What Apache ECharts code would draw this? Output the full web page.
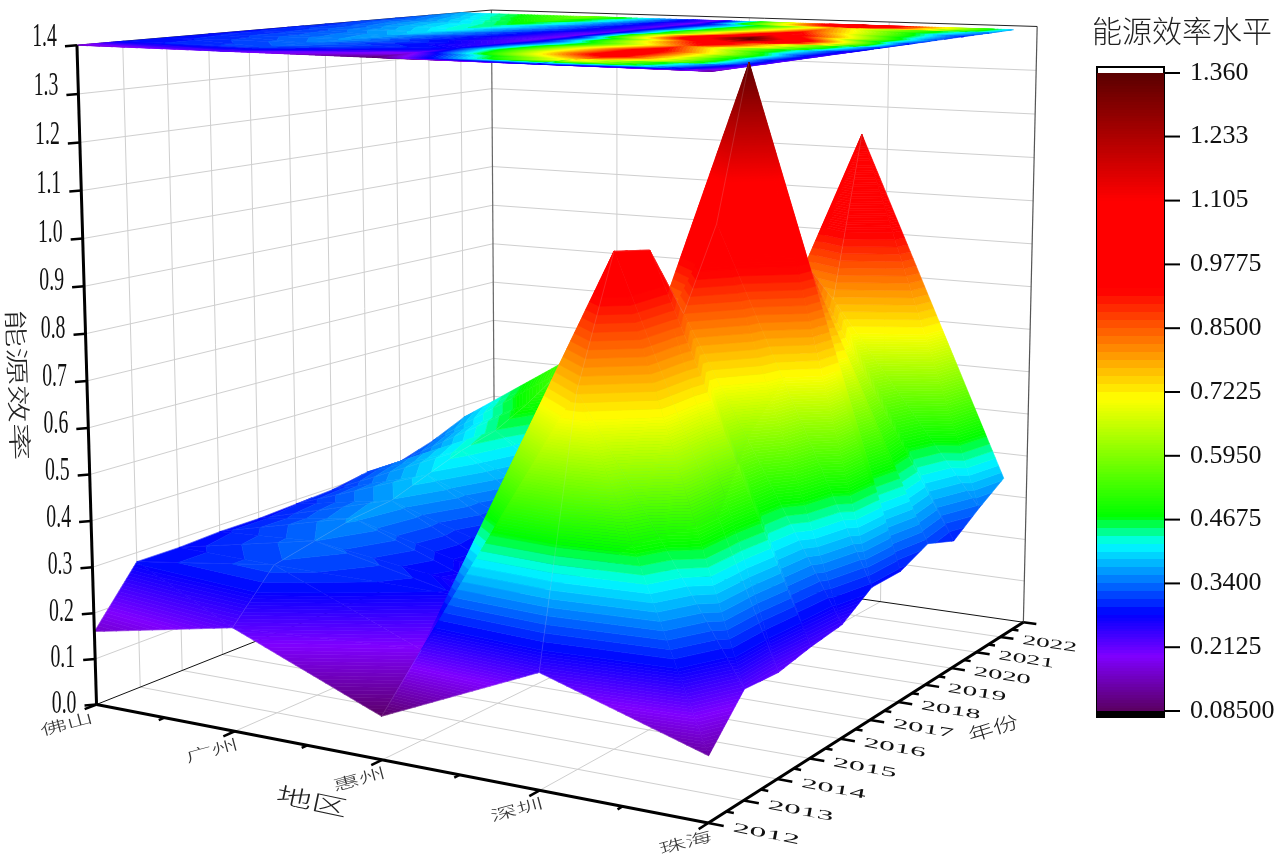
<!DOCTYPE html>
<html>
<head>
<meta charset="utf-8">
<title>能源效率</title>
<script src="https://cdn.jsdelivr.net/npm/echarts@6/dist/echarts.min.js"></script>
<style>
html, body { margin: 0; padding: 0; background: #fff; }
#main { width: 1281px; height: 862px; }
</style>
</head>
<body>
<div id="main"></div>
<script>
// values, one array per region, 2012 -> 2022
const regions = ['佛山', '广州', '惠州', '深圳', '珠海'];
const years = [2012, 2013, 2014, 2015, 2016, 2017, 2018, 2019, 2020, 2021, 2022];
const foshan = [0.16, 0.28, 0.28, 0.285, 0.285, 0.29, 0.295, 0.31, 0.31, 0.335, 0.37];
const guangzhou = [0.22, 0.32, 0.34, 0.36, 0.37, 0.40, 0.43, 0.45, 0.49, 0.54, 0.58];
const huizhou = [0.09, 0.19, 0.27, 0.24, 0.21, 0.20, 0.20, 0.22, 0.21, 0.20, 0.20];
const shenzhen = [0.235, 0.76, 1.015, 1.0, 0.85, 1.02, 1.35, 1.05, 0.88, 0.78, 1.148];
const zhuhai = [0.13, 0.22, 0.215, 0.23, 0.24, 0.285, 0.286, 0.315, 0.29, 0.335, 0.375];
const surface = [foshan, guangzhou, huizhou, shenzhen, zhuhai];

const zTicks = [0, 0.1, 0.2, 0.3, 0.4, 0.5, 0.6, 0.7, 0.8, 0.9, 1.0, 1.1, 1.2, 1.3, 1.4];
const colorTicks = [0.085, 0.2125, 0.34, 0.4675, 0.595, 0.7225, 0.85, 0.9775, 1.105, 1.233, 1.36];
const colorTickLabels = ['0.08500', '0.2125', '0.3400', '0.4675', '0.5950', '0.7225', '0.8500', '0.9775', '1.105', '1.233', '1.360'];
const colorStopValues = [0.085, 0.195, 0.278, 0.42, 0.475, 0.71, 0.925, 1.105, 1.36];
const colorStopHex = ['#5a0060', '#7f00ff', '#0000ff', '#00ffff', '#00ff00', '#ffff00', '#ff0000', '#ff0000', '#5a0000'];

const zMax = 1.4;
const yearSpan = 11; // the axis runs one step past 2022
const bandCount = 80;
const bandLo = 0.085, bandHi = 1.36;
const serif = '"Liberation Serif"';
const cjk = '"Noto Sans CJK SC"';

// camera: fit a perspective matrix to the eight corners of the box
// [r, t, h, screen x, screen y]
const boxCorners = [
  [0, 0, 0, 97, 705], [1, 0, 0, 707, 823], [1, 1, 0, 1024, 622], [0, 1, 0, 495, 546],
  [0, 0, 1, 77, 45], [1, 0, 1, 713, 71], [1, 1, 1, 1037, 27], [0, 1, 1, 491, 10]
];

function solve(A, b) {
  const n = b.length;
  for (let c = 0; c < n; c++) {
    let best = c;
    for (let q = c + 1; q < n; q++) if (Math.abs(A[q][c]) > Math.abs(A[best][c])) best = q;
    [A[c], A[best]] = [A[best], A[c]];
    [b[c], b[best]] = [b[best], b[c]];
    for (let q = c + 1; q < n; q++) {
      const f = A[q][c] / A[c][c];
      for (let k = c; k < n; k++) A[q][k] -= f * A[c][k];
      b[q] -= f * b[c];
    }
  }
  const x = new Array(n).fill(0);
  for (let c = n - 1; c >= 0; c--) {
    let s = b[c];
    for (let k = c + 1; k < n; k++) s -= A[c][k] * x[k];
    x[c] = s / A[c][c];
  }
  return x;
}

function fitCamera() {
  const rows = [], rhs = [];
  boxCorners.forEach(([r, t, h, u, v]) => {
    rows.push([r, t, h, 1, 0, 0, 0, 0, -u * r, -u * t, -u * h]); rhs.push(u);
    rows.push([0, 0, 0, 0, r, t, h, 1, -v * r, -v * t, -v * h]); rhs.push(v);
  });
  const N = [], y = [];
  for (let a = 0; a < 11; a++) {
    N.push([]);
    y.push(rows.reduce((s, row, q) => s + row[a] * rhs[q], 0));
    for (let b = 0; b < 11; b++) N[a].push(rows.reduce((s, row) => s + row[a] * row[b], 0));
  }
  return solve(N, y);
}
const cam = fitCamera();

function project(r, t, h) {
  const w = cam[8] * r + cam[9] * t + cam[10] * h + 1;
  return [(cam[0] * r + cam[1] * t + cam[2] * h + cam[3]) / w, (cam[4] * r + cam[5] * t + cam[6] * h + cam[7]) / w];
}

function valueColor(v) {
  let k = 0;
  while (k < colorStopValues.length - 2 && v > colorStopValues[k + 1]) k++;
  const f = Math.min(1, Math.max(0, (v - colorStopValues[k]) / (colorStopValues[k + 1] - colorStopValues[k])));
  const a = echarts.color.parse(colorStopHex[k]), b = echarts.color.parse(colorStopHex[k + 1]);
  return 'rgb(' + [0, 1, 2].map(c => Math.round(a[c] + (b[c] - a[c]) * f)).join(',') + ')';
}

// stepped look only from blue to green and from yellow to red, the rest is close to smooth
const bandStep = (bandHi - bandLo) / bandCount;
const bands = [];
for (let n = 0; n < bandCount; n++) {
  const lo = bandLo + n * bandStep, mid = lo + bandStep / 2;
  const stepped = (mid > 0.278 && mid < 0.475) || (mid > 0.71 && mid < 0.925);
  const parts = stepped ? 1 : 3;
  for (let s = 0; s < parts; s++) {
    const a = lo + bandStep * s / parts, b = lo + bandStep * (s + 1) / parts;
    bands.push({ lo: a, hi: b, color: valueColor((a + b) / 2) });
  }
}

function clipBy(poly, fn) {
  const out = [];
  poly.forEach((p, q) => {
    const n = poly[(q + 1) % poly.length], a = fn(p), b = fn(n);
    if (a >= 0) out.push(p);
    if ((a >= 0) !== (b >= 0)) {
      const f = a / (a - b);
      out.push([p[0] + (n[0] - p[0]) * f, p[1] + (n[1] - p[1]) * f, p[2] + (n[2] - p[2]) * f]);
    }
  });
  return out;
}

function triangleBands(tri, toScreen, out) {
  bands.forEach(b => {
    let poly = clipBy(tri, p => p[2] - b.lo);
    if (poly.length) poly = clipBy(poly, p => b.hi - p[2]);
    if (poly.length > 2) out.push({ kind: 'poly', points: poly.map(toScreen), color: b.color });
  });
}

const vertex = (i, j) => [i / (regions.length - 1), j / yearSpan, surface[i][j]];
const onSurface = p => project(p[0], p[1], p[2] / zMax);
const onCeiling = p => project(p[0], p[1], 1);

// back to front: far regions first, later years first
const surfacePieces = [], ceilingPieces = [];
for (let i = 0; i < regions.length - 1; i++) {
  for (let j = years.length - 2; j >= 0; j--) {
    const a = vertex(i, j), b = vertex(i + 1, j), c = vertex(i + 1, j + 1), d = vertex(i, j + 1);
    // the two outer strips are split along the other diagonal
    const tris = (i === 0 || i === regions.length - 2) ? [[b, c, d], [a, b, d]] : [[a, c, d], [a, b, c]];
    tris.forEach(tri => {
      triangleBands(tri, onSurface, surfacePieces);
      triangleBands(tri, onCeiling, ceilingPieces);
    });
    surfacePieces.push({ kind: 'line', a: onSurface(a), b: onSurface(b), color: 'rgba(215,215,215,0.22)', width: 0.8 });
    surfacePieces.push({ kind: 'line', a: onSurface(a), b: onSurface(d), color: 'rgba(215,215,215,0.22)', width: 0.8 });
  }
}

// walls and floor
const gridPieces = [];
const line3 = (list, p, q, color, width) => list.push({ kind: 'line', a: project(p[0], p[1], p[2]), b: project(q[0], q[1], q[2]), color: color, width: width });
const gridColor = '#cfcfcf';
zTicks.forEach(z => {
  const h = z / zMax;
  if (z > 0 && z < zMax) {
    line3(gridPieces, [0, 0, h], [0, 1, h], gridColor, 1);
    line3(gridPieces, [0, 1, h], [1, 1, h], gridColor, 1);
  }
});
for (let k = 1; k < yearSpan; k++) {
  line3(gridPieces, [0, k / yearSpan, 0], [0, k / yearSpan, 1], gridColor, 1);
  line3(gridPieces, [0, k / yearSpan, 0], [1, k / yearSpan, 0], gridColor, 1);
}
[0.25, 0.5, 0.75].forEach(r => {
  line3(gridPieces, [r, 1, 0], [r, 1, 1], gridColor, 1);
  line3(gridPieces, [r, 0, 0], [r, 1, 0], gridColor, 1);
});
line3(gridPieces, [0, 0, 0], [0, 1, 0], '#111', 1);
line3(gridPieces, [0, 1, 0], [1, 1, 0], '#111', 1);
line3(gridPieces, [0, 1, 0], [0, 1, 1], '#666', 1.2);
line3(gridPieces, [1, 1, 0], [1, 1, 1], '#555', 1.2);
line3(gridPieces, [0, 0, 1], [0, 1, 1], '#222', 1);
line3(gridPieces, [0, 1, 1], [1, 1, 1], '#222', 1);

// axes, ticks, labels
const axisPieces = [];
line3(axisPieces, [0, 0, 0], [0, 0, 1], '#000', 3);
line3(axisPieces, [0, 0, 0], [1, 0, 0], '#000', 3);
line3(axisPieces, [1, 0, 0], [1, 1, 0], '#000', 3);

zTicks.forEach((z, n) => {
  const p = project(0, 0, z / zMax);
  axisPieces.push({ kind: 'line', a: p, b: [p[0] - 12, p[1] + 1], color: '#000', width: 2.5 });
  axisPieces.push({
    kind: 'text', x: p[0] - 20, y: p[1] - 8 * z / zMax, text: z.toFixed(1), font: '33px ' + serif,
    align: 'right', sx: 0.6, sy: 1, rot: 0, fill: '#111'
  });
});

for (let n = 0; n <= 8; n++) {
  const r = n / 8, major = n % 2 === 0;
  line3(axisPieces, [r, 0, 0], [r, major ? -0.024 : -0.012, 0], '#000', 2.5);
}
regions.forEach((name, n) => {
  const p = project(n / (regions.length - 1), 0, 0);
  axisPieces.push({
    kind: 'text', x: p[0] - (n === 0 ? 30 : 23), y: p[1] + 19, text: name, font: '300 27px ' + cjk,
    align: 'center', sx: 1, sy: 0.55, rot: 15 * Math.PI / 180, fill: '#333'
  });
});

for (let n = 0; n <= yearSpan * 2; n++) {
  const t = n / (yearSpan * 2), major = n % 2 === 0;
  line3(axisPieces, [1, t, 0], [major ? 1.022 : 1.011, t, 0], '#000', 2.5);
}
years.forEach((year, k) => {
  const p = project(1.082, k / yearSpan, 0);
  axisPieces.push({
    kind: 'text', x: p[0], y: p[1], text: String(year), font: '30px ' + serif,
    align: 'center', sx: (68 - 1.3 * k) / 60, sy: 0.45, rot: -(11 - 0.25 * k) * Math.PI / 180, fill: '#111'
  });
});

axisPieces.push({ kind: 'text', x: 18, y: 385, text: '能源效率', font: '300 36px ' + cjk, align: 'center', sx: 1.05, sy: 0.66, rot: -88 * Math.PI / 180, fill: '#222' });
axisPieces.push({ kind: 'text', x: 312, y: 801, text: '地区', font: '300 36px ' + cjk, align: 'center', sx: 1, sy: 0.62, rot: -12 * Math.PI / 180, fill: '#222' });
axisPieces.push({ kind: 'text', x: 993, y: 728, text: '年份', font: '300 26px ' + cjk, align: 'center', sx: 1, sy: 0.7, rot: 17 * Math.PI / 180, fill: '#222' });

function drawPiece(list) {
  return function (params) {
    const s = list[params.dataIndex];
    if (s.kind === 'poly') {
      return { type: 'polygon', silent: true, shape: { points: s.points }, style: { fill: s.color, stroke: s.color, lineWidth: 0.6 } };
    }
    if (s.kind === 'line') {
      return { type: 'line', silent: true, shape: { x1: s.a[0], y1: s.a[1], x2: s.b[0], y2: s.b[1] }, style: { stroke: s.color, lineWidth: s.width, fill: null } };
    }
    return {
      type: 'text', silent: true, x: s.x, y: s.y, rotation: s.rot, scaleX: s.sx, scaleY: s.sy,
      style: { text: s.text, font: s.font, fill: s.fill, align: s.align, verticalAlign: 'middle' }
    };
  };
}

function sceneSeries(name, list, z) {
  return {
    name: name, type: 'custom', coordinateSystem: 'none', z: z, silent: true,
    animation: false, progressive: 0, renderItem: drawPiece(list), data: list.map((_, i) => [i])
  };
}

// colour bar: 6px of empty frame above the top value and a black strip under the lowest
const barStep = 0.1275 / 64;
const barMin = bandLo - 6 * barStep, barMax = bandHi + 6 * barStep;
const barPieces = bands.map(b => [b.lo, b.hi, b.color]).concat([[barMin, bandLo, '#000']]);

const chart = echarts.init(document.getElementById('main'));
chart.setOption({
  animation: false,
  backgroundColor: '#fff',
  title: {
    text: '能源效率水平', left: 1087, top: 11,
    textStyle: { fontFamily: cjk, fontSize: 30, fontWeight: 300, color: '#222' }
  },
  grid: { left: 1097, top: 67, width: 67, height: 650, show: true, borderColor: '#000', borderWidth: 2, backgroundColor: '#fff' },
  xAxis: { type: 'value', min: 0, max: 1, show: false },
  yAxis: {
    type: 'value', position: 'right', min: barMin, max: barMax, scale: true,
    axisLine: { show: false }, axisTick: { show: false }, splitLine: { show: false },
    axisLabel: {
      show: true, margin: 26, customValues: colorTicks, fontFamily: serif, fontSize: 26, color: '#111',
      formatter: v => colorTickLabels[colorTicks.indexOf(v)]
    }
  },
  series: [
    sceneSeries('walls', gridPieces, 1),
    sceneSeries('ceiling', ceilingPieces, 2),
    sceneSeries('surface', surfacePieces, 3),
    sceneSeries('axes', axisPieces, 4),
    {
      name: 'colour bar', type: 'custom', xAxisIndex: 0, yAxisIndex: 0, z: 2, silent: true, animation: false,
      data: barPieces.map((b, i) => [i, b[0], b[1]]),
      renderItem: function (params, api) {
        const p = barPieces[params.dataIndex];
        const a = api.coord([0, p[1]]), b = api.coord([1, p[0]]);
        const top = Math.round(a[1]), bottom = Math.round(b[1]);
        return { type: 'rect', shape: { x: a[0], y: top, width: b[0] - a[0], height: bottom - top }, style: { fill: p[2] } };
      }
    },
    {
      name: 'colour ticks', type: 'custom', xAxisIndex: 0, yAxisIndex: 0, z: 3, silent: true, animation: false,
      data: colorTicks.map(v => [1, v]),
      renderItem: function (params, api) {
        const p = api.coord([1, api.value(1)]);
        return { type: 'line', shape: { x1: p[0], y1: p[1], x2: p[0] + 16, y2: p[1] }, style: { stroke: '#000', lineWidth: 2 } };
      }
    }
  ]
});
</script>
</body>
</html>
